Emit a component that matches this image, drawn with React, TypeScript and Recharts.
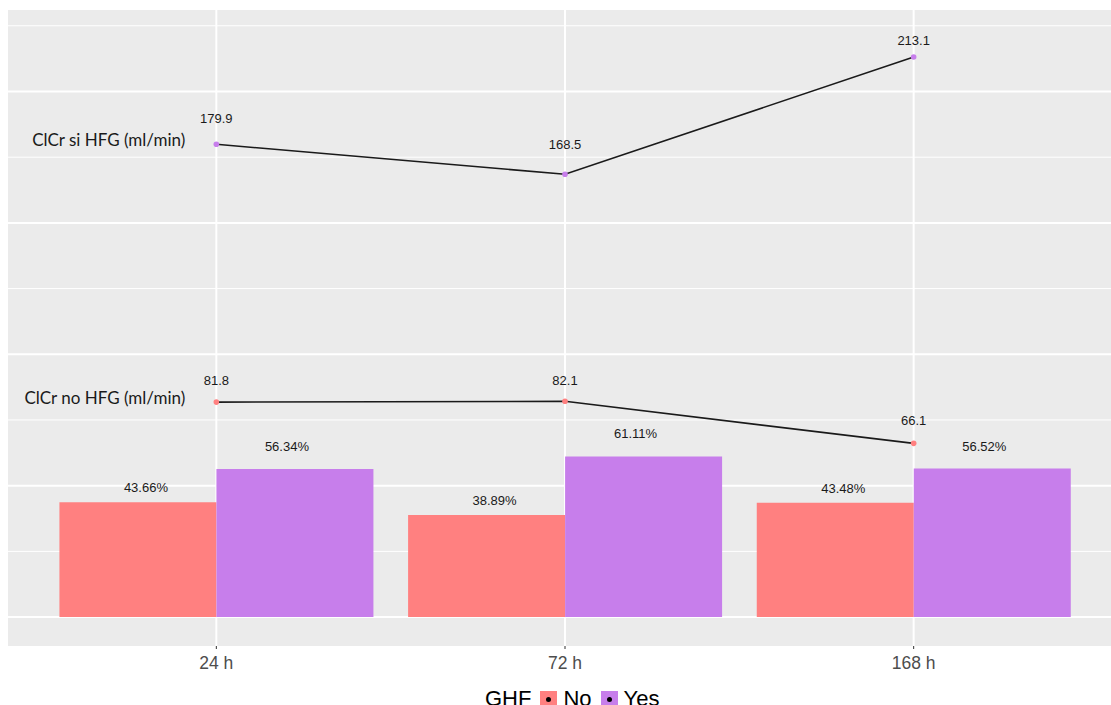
import React from 'react';
import { ComposedChart, Bar, Line, XAxis, YAxis, CartesianGrid, LabelList } from 'recharts';

const timePoints = ['24 h', '72 h', '168 h'];
const ghfNoPct = [43.66, 38.89, 43.48];
const ghfYesPct = [56.34, 61.11, 56.52];
const clcrNoHfg = [81.8, 82.1, 66.1];
const clcrSiHfg = [179.9, 168.5, 213.1];
const majorGrid = [0, 50, 100, 150, 200];
const minorGrid = [25, 75, 125, 175, 225];
const seriesNames = { no: 'ClCr no HFG (ml/min)', si: 'ClCr si HFG (ml/min)' };

const NO_COLOR = '#FF8080';
const YES_COLOR = '#C77EEB';

const chartData = timePoints.map((t, i) => ({
  time: t,
  no: ghfNoPct[i],
  yes: ghfYesPct[i],
  clcrNo: clcrNoHfg[i],
  clcrSi: clcrSiHfg[i],
}));

const barLabel = (dx: number, lift: number) => (props: any) => {
  const { x, y, width, value } = props;
  return (
    <text x={x + width / 2 + dx} y={y - lift} textAnchor="middle" fontSize={13} fill="#1a1a1a">
      {value.toFixed(2)}%
    </text>
  );
};

// lift per point, labels in the original sit at slightly different heights
const lineLabel = (name: string, lifts: number[]) => (props: any) => {
  const { x, y, value, index } = props;
  return (
    <g>
      <text x={x} y={y - lifts[index]} textAnchor="middle" fontSize={13} fill="#1a1a1a">
        {value.toFixed(1)}
      </text>
      {index === 0 && (
        <text x={x - 31} y={y - 4} dy="0.35em" textAnchor="end" fontSize={17}
          fontFamily="Lato, 'Open Sans', sans-serif" fill="#1a1a1a">
          {name}
        </text>
      )}
    </g>
  );
};

const LegendKey = ({ color }: { color: string }) => (
  <span style={{ display: 'inline-block', width: 17, height: 17, background: color, position: 'relative', margin: '0 6px 0 5px' }}>
    <span style={{ position: 'absolute', left: 6, top: 6, width: 5, height: 5, borderRadius: 3, background: '#000' }} />
  </span>
);

export default function App() {
  return (
    <div style={{ position: 'absolute', left: 0, top: 0, width: 1111, height: 705, overflow: 'hidden', background: '#fff' }}>
      <ComposedChart
        width={1119}
        height={705}
        data={chartData}
        margin={{ top: 10, right: 0, left: 7, bottom: 0 }}
        barCategoryGap="5%"
        barGap={0}
        style={{ fontFamily: "'Liberation Sans', Arial, sans-serif" }}
      >
        <CartesianGrid fill="#EBEBEB" stroke="#ffffff" strokeWidth={1} vertical={false} horizontalValues={minorGrid} />
        <CartesianGrid stroke="#ffffff" strokeWidth={2} horizontalValues={majorGrid} fillOpacity={0} />
        <XAxis
          dataKey="time"
          height={59}
          padding={{ left: 35, right: 31 }}
          axisLine={false}
          tickLine={{ stroke: '#333333' }}
          tickSize={3}
          tickMargin={8}
          tick={{ fill: '#4D4D4D', fontSize: 17.5 }}
        />
        <YAxis hide type="number" domain={[-11, 231]} allowDataOverflow />
        <Bar dataKey="no" fill={NO_COLOR} isAnimationActive={false}>
          <LabelList dataKey="no" content={barLabel(8, 10)} />
        </Bar>
        <Bar dataKey="yes" fill={YES_COLOR} isAnimationActive={false}>
          <LabelList dataKey="yes" content={barLabel(-8, 18)} />
        </Bar>
        <Line
          dataKey="clcrNo"
          stroke="#1a1a1a"
          strokeWidth={1.6}
          dot={{ r: 2.8, fill: NO_COLOR, stroke: 'none' }}
          activeDot={false}
          isAnimationActive={false}
        >
          <LabelList dataKey="clcrNo" content={lineLabel(seriesNames.no, [17, 16, 18])} />
        </Line>
        <Line
          dataKey="clcrSi"
          stroke="#1a1a1a"
          strokeWidth={1.6}
          dot={{ r: 2.8, fill: YES_COLOR, stroke: 'none' }}
          activeDot={false}
          isAnimationActive={false}
        >
          <LabelList dataKey="clcrSi" content={lineLabel(seriesNames.si, [21, 25, 12])} />
        </Line>
      </ComposedChart>
      <div
        style={{
          position: 'absolute', left: 485, top: 686, display: 'flex', alignItems: 'center',
          fontFamily: "'Liberation Sans', Arial, sans-serif", fontSize: 22, color: '#000', whiteSpace: 'nowrap',
        }}
      >
        <span style={{ marginRight: 4 }}>GHF</span>
        <LegendKey color={NO_COLOR} />
        <span style={{ marginRight: 4 }}>No</span>
        <LegendKey color={YES_COLOR} />
        <span>Yes</span>
      </div>
    </div>
  );
}
